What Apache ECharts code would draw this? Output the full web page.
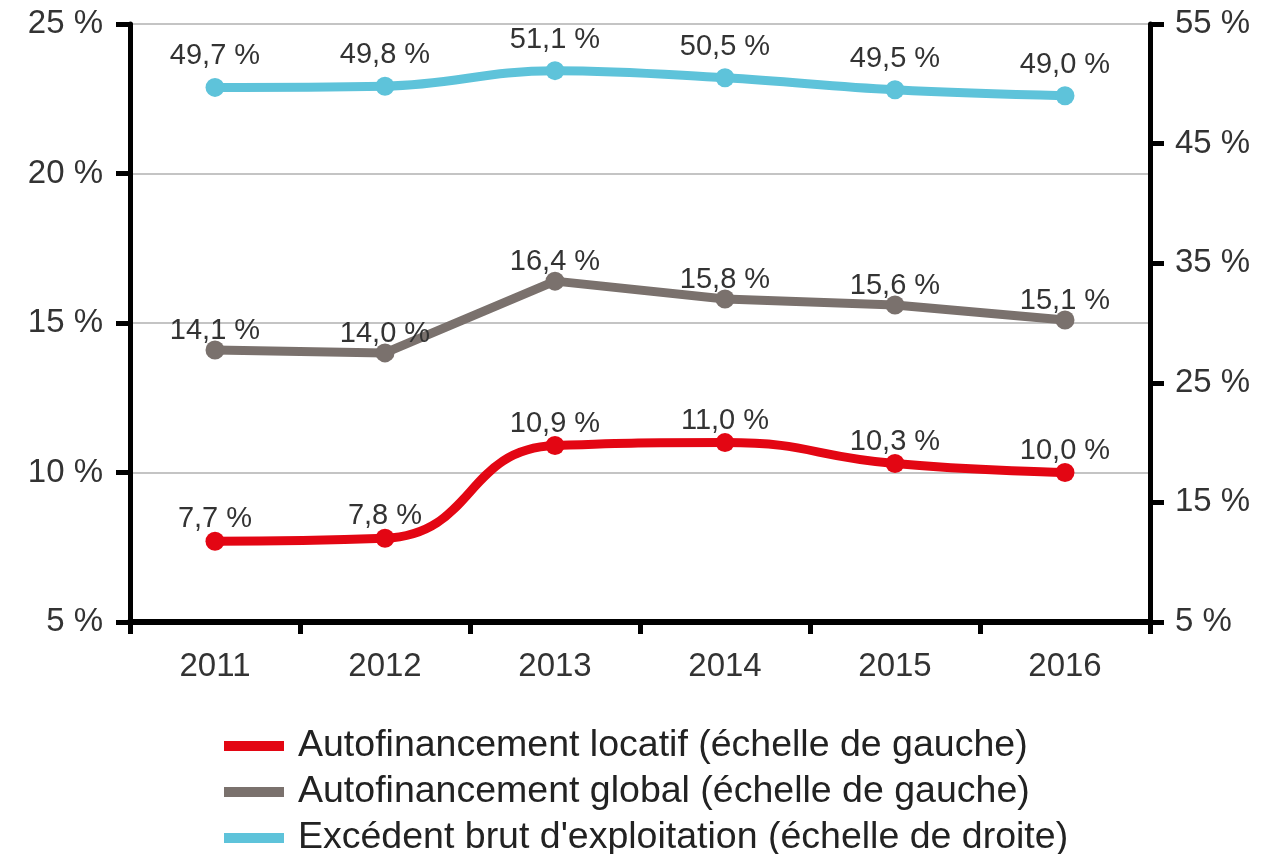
<!DOCTYPE html>
<html>
<head>
<meta charset="utf-8">
<script src="https://cdn.jsdelivr.net/npm/echarts@6/dist/echarts.min.js"></script>
<style>
  html, body { margin: 0; padding: 0; background: #fff; }
  #chart { width: 1281px; height: 854px; }
</style>
</head>
<body>
<div id="chart"></div>
<script>
// données
const years = ['2011', '2012', '2013', '2014', '2015', '2016'];
const autofLocatif = [7.7, 7.8, 10.9, 11.0, 10.3, 10.0];
const autofGlobal = [14.1, 14.0, 16.4, 15.8, 15.6, 15.1];
const ebe = [49.7, 49.8, 51.1, 50.5, 49.5, 49.0];

const FONT = '"Liberation Sans", Arial, sans-serif';
const pct = p => p.value.toFixed(1).replace('.', ',') + ' %';

const axisCommon = {
  axisLine: { show: true, lineStyle: { color: '#000', width: 5 } },
  axisTick: { show: true, length: 14, lineStyle: { color: '#000', width: 5 } },
  axisLabel: { color: '#333', fontSize: 33, fontFamily: FONT, formatter: '{value} %' }
};

function serie(name, data, color, axis, smooth, dist, dy) {
  return {
    name, type: 'line', data, yAxisIndex: axis,
    smooth, symbol: 'circle', symbolSize: 19,
    lineStyle: { color, width: 9 },
    itemStyle: { color },
    label: {
      show: true, position: 'top', distance: dist, offset: [0, dy], formatter: pct,
      color: '#333', fontSize: 29, fontFamily: FONT
    },
    z: axis ? 3 : 4
  };
}

const chart = echarts.init(document.getElementById('chart'));
chart.setOption({
  animation: false,
  textStyle: { fontFamily: FONT },
  grid: { left: 130, right: 131, top: 24, bottom: 232, containLabel: false },
  legend: {
    orient: 'vertical', left: 219, top: 722, width: 900, height: 160, itemGap: 8,
    icon: 'rect', itemWidth: 60, itemHeight: 10,
    textStyle: { color: '#222', fontSize: 37.5, fontFamily: FONT, padding: [0, 0, 0, 9] },
    data: ['Autofinancement locatif (échelle de gauche)', 'Autofinancement global (échelle de gauche)', "Excédent brut d'exploitation (échelle de droite)"]
  },
  xAxis: {
    type: 'category', data: years, boundaryGap: true,
    axisLine: { lineStyle: { color: '#000', width: 6 } },
    axisTick: { show: true, length: 12, lineStyle: { color: '#000', width: 5 } },
    axisLabel: { color: '#333', fontSize: 33, fontFamily: FONT, margin: 28 }
  },
  yAxis: [
    Object.assign({}, axisCommon, {
      type: 'value', min: 5, max: 25, interval: 5, position: 'left',
      axisLabel: Object.assign({}, axisCommon.axisLabel, { margin: 27 }),
      splitLine: { show: true, lineStyle: { color: '#b0b0b0', width: 1.5 } }
    }),
    Object.assign({}, axisCommon, {
      type: 'value', min: 5, max: 55, interval: 10, position: 'right',
      axisLabel: Object.assign({}, axisCommon.axisLabel, { margin: 25 }),
      splitLine: { show: false }
    })
  ],
  series: [
    serie('Autofinancement locatif (échelle de gauche)', autofLocatif, '#e30613', 0, 0.5, 0, 2),
    serie('Autofinancement global (échelle de gauche)', autofGlobal, '#7a716d', 0, false, 0, 5),
    serie("Excédent brut d'exploitation (échelle de droite)", ebe, '#5ec3da', 1, 0.4, 7, 0)
  ]
});
</script>
</body>
</html>
